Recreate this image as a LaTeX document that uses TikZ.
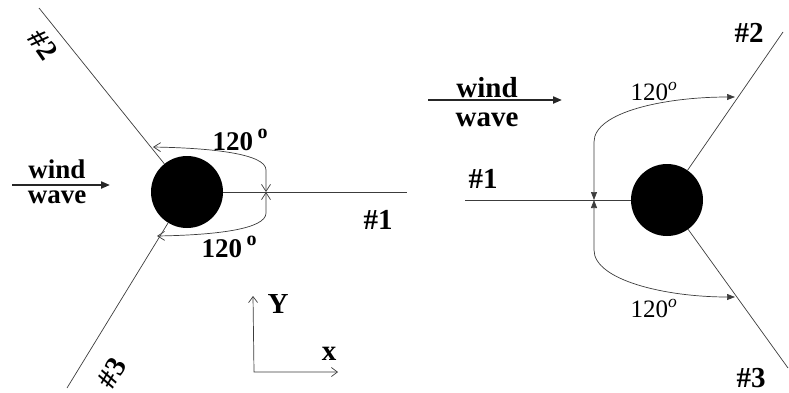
\documentclass[tikz,border=0pt]{standalone}
\usepackage{fontspec}
\setmainfont{Liberation Serif}
\usetikzlibrary{positioning, arrows.meta, calc}
\definecolor{lineGray}{HTML}{3C3C3C}

\begin{document}
\begin{tikzpicture}[
    x=1pt, y=-1pt,
    pile/.style={circle, fill=black, minimum size=72pt, inner sep=0pt},
    leg/.style={line width=0.7pt, draw=lineGray},
    angArrowL/.style={leg, {Straight Barb[length=7pt,width=9pt]}-{Straight Barb[length=7pt,width=9pt]}},
    angArrowR/.style={leg, {Triangle[length=8pt,width=6pt]}-{Triangle[length=8pt,width=6pt]}},
    axisArrow/.style={leg, {Straight Barb[length=6pt,width=9pt]}-{Straight Barb[length=6pt,width=9pt]}},
    flowArrow/.style={line width=2pt, draw=black!85, -{Triangle[length=9pt,width=7pt]}},
    boldLabel/.style={font=\bfseries\fontsize{27}{27}\selectfont, inner sep=0pt, anchor=base},
    bigLabel/.style={font=\bfseries\fontsize{29}{29}\selectfont, inner sep=0pt, anchor=base},
    plainLabel/.style={font=\fontsize{25}{25}\selectfont, inner sep=0pt, anchor=base}
]
\useasboundingbox (0,0) rectangle (789,392);

% left: legs and pile
\node[pile] (pileL) at (187,192) {};
\coordinate (endL1) at (407,192);
\coordinate (endL2) at (39,8);
\coordinate (endL3) at (67,388);
\draw[leg] (pileL) -- (endL1);
\draw[leg] (pileL) -- (endL2);
\draw[leg] (pileL) -- (endL3);

\node[bigLabel] (numL1) at (378,229) {\#1};
\node[bigLabel, anchor=center, rotate=-55] (numL2) at (43,45) {\#2};
\node[bigLabel, anchor=center, rotate=60] (numL3) at (112,373) {\#3};

\coordinate (crossL) at (266,192);
\coordinate (tipL2) at (153,147);
\coordinate (tipL3) at (157,236);
\draw[angArrowL] (crossL) -- ++(0,-22) .. controls +(0,-16) and +(60,1) .. (tipL2);
\draw[angArrowL] (crossL) -- ++(0,21) .. controls +(0,16) and +(60,-1) .. (tipL3);
\node[boldLabel] (angL2) at (240,150) {120\,\raisebox{0.42em}{\fontsize{20}{20}\selectfont o}};
\node[boldLabel] (angL3) at (229,257) {120\,\raisebox{0.42em}{\fontsize{20}{20}\selectfont o}};

\coordinate (windL0) at (12,185);
\coordinate (windL1) at (110,185);
\draw[flowArrow] (windL0) -- (windL1);
\node[boldLabel] (windTxtL) at (57,178) {wind};
\node[boldLabel] (waveTxtL) at (57,203) {wave};

% axes
\coordinate (axO) at (254,372);
\coordinate (axY) at (253,296);
\coordinate (axX) at (338,372);
\draw[axisArrow] (axY) -- (axO) -- (axX);
\node[bigLabel] (axYTxt) at (278,313) {Y};
\node[bigLabel] (axXTxt) at (329,360) {x};

% right: legs and pile
\node[pile] (pileR) at (667,200) {};
\coordinate (endR1) at (465,200);
\coordinate (endR2) at (783,32);
\coordinate (endR3) at (788,368);
\draw[leg] (pileR) -- (endR1);
\draw[leg] (pileR) -- (endR2);
\draw[leg] (pileR) -- (endR3);

\node[bigLabel] (numR1) at (483,188) {\#1};
\node[bigLabel] (numR2) at (749,42) {\#2};
\node[bigLabel] (numR3) at (751,387) {\#3};

\coordinate (crossR) at (594,200);
\coordinate (tipR2) at (735,97);
\coordinate (tipR3) at (735,297);
\draw[angArrowR] (crossR) -- ++(0,-58) .. controls +(0,-30) and +(-70,0) .. (tipR2);
\draw[angArrowR] (crossR) -- ++(0,50) .. controls +(0,30) and +(-70,0) .. (tipR3);
\node[plainLabel] (angR2) at (654,100) {120\textsuperscript{\itshape o}};
\node[plainLabel] (angR3) at (654,317) {120\textsuperscript{\itshape o}};

\coordinate (windR0) at (428,100);
\coordinate (windR1) at (562,100);
\draw[flowArrow] (windR0) -- (windR1);
\node[bigLabel] (windTxtR) at (487,97) {wind};
\node[bigLabel] (waveTxtR) at (487,126) {wave};

\end{tikzpicture}
\end{document}
